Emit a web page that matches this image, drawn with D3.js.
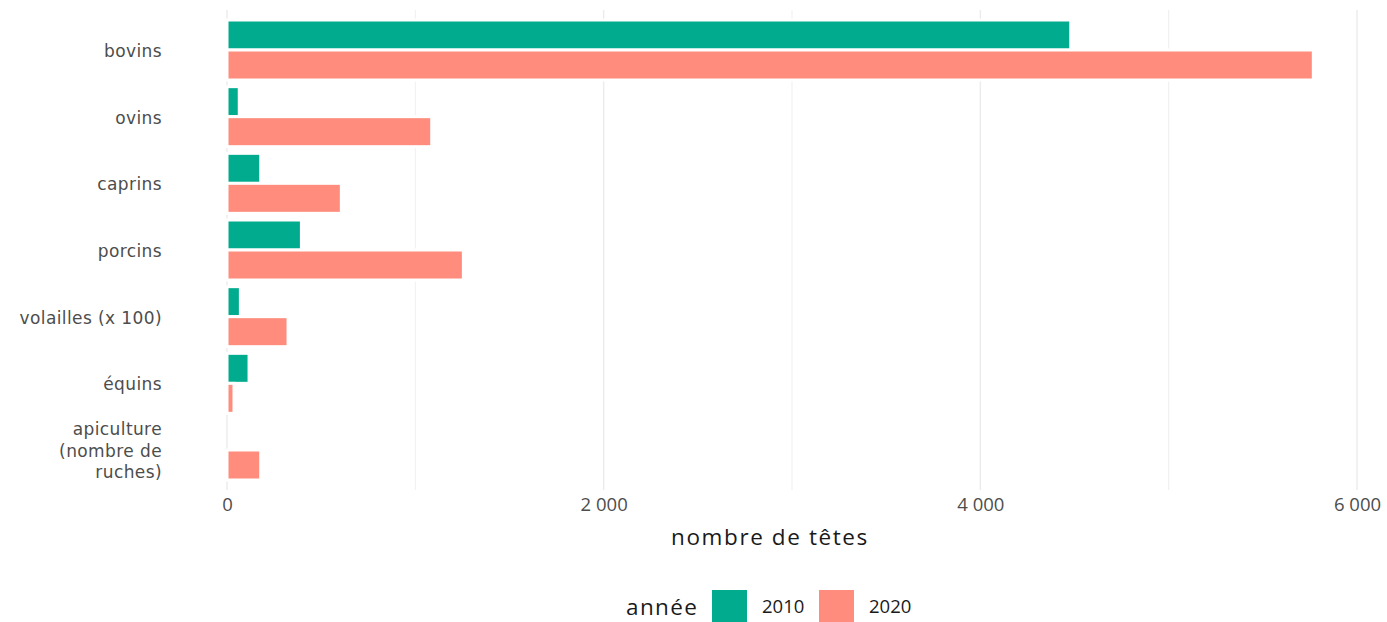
<!DOCTYPE html>
<html lang="fr">
<head>
<meta charset="utf-8">
<script src="https://cdn.jsdelivr.net/npm/d3@7"></script>
<style>
  html, body { margin: 0; padding: 0; background: #fff; }
  svg { display: block; font-family: "Open Sans", "Noto Sans", sans-serif; }
</style>
</head>
<body>
<svg id="chart" width="1387" height="622"></svg>
<script>
// Cheptel par espèce, 2010 et 2020
const categories = ["bovins", "ovins", "caprins", "porcins", "volailles (x 100)", "équins", "apiculture (nombre de ruches)"];
const categoryLines = [["bovins"], ["ovins"], ["caprins"], ["porcins"], ["volailles (x 100)"], ["équins"], ["apiculture", "(nombre de", "ruches)"]];
const years = ["2010", "2020"];
const values2010 = [4480, 65, 179, 395, 71, 117, null];
const values2020 = [5768, 1087, 607, 1255, 324, 37, 179];
const xTicks = [0, 2000, 4000, 6000];
const xGrid = [0, 1000, 2000, 3000, 4000, 5000, 6000];
const colors = ["#00ab8e", "#ff8c7d"];

const svg = d3.select("#chart");

const x = d3.scaleLinear().domain([0, 6000]).range([227, 1357]);
const y = d3.scaleBand().domain(categories).range([10, 490]).paddingInner(0).paddingOuter(0.1);
const yInner = d3.scaleBand().domain(years)
  .range([y.bandwidth() * 0.05, y.bandwidth() * 0.95]);
const color = d3.scaleOrdinal().domain(years).range(colors);

const fr = d3.formatLocale({ decimal: ",", thousands: "\u00a0", grouping: [3], currency: ["", " €"] });
const fmt = fr.format(",d");

// grid lines
svg.append("g").selectAll("line").data(xGrid).join("line")
  .attr("x1", d => x(d)).attr("x2", d => x(d))
  .attr("y1", 10).attr("y2", 490)
  .attr("stroke", "#ebebeb")
  .attr("stroke-width", d => xTicks.includes(d) ? 1.4 : 0.8);

// bars
const rows = categories.map((c, i) => ({ cat: c, vals: [values2010[i], values2020[i]] }));
const groups = svg.append("g").selectAll("g").data(rows).join("g")
  .attr("transform", d => `translate(0,${y(d.cat)})`);
groups.selectAll("rect")
  .data(d => years.map((yr, j) => ({ year: yr, value: d.vals[j] })).filter(v => v.value != null))
  .join("rect")
  .attr("x", x(0))
  .attr("y", d => yInner(d.year))
  .attr("width", d => x(d.value) - x(0))
  .attr("height", yInner.bandwidth())
  .attr("fill", d => color(d.year))
  .attr("stroke", "#fff")
  .attr("stroke-width", 3);

// x axis tick labels
const xAxis = d3.axisBottom(x).tickValues(xTicks).tickFormat(fmt).tickSize(0).tickPadding(0);
const gx = svg.append("g").attr("transform", "translate(0,498)").call(xAxis);
gx.select(".domain").remove();
gx.selectAll("text").attr("fill", "#4d4d4d").style("font-size", "18.5px")
  .style("font-family", "'Open Sans', sans-serif");

// y category labels
const gy = svg.append("g");
categories.forEach((c, i) => {
  const lines = categoryLines[i];
  const lh = 21.5;
  const cy = y(c) + y.bandwidth() / 2;
  const t = gy.append("text")
    .attr("x", 162)
    .attr("text-anchor", "end")
    .attr("fill", "#4d4d4d")
    .style("font-family", "'DejaVu Sans', sans-serif")
    .style("font-size", "17px")
    .style("letter-spacing", "0.4px");
  lines.forEach((ln, k) => {
    t.append("tspan")
      .attr("x", 162)
      .attr("y", cy + 1 + (k - (lines.length - 1) / 2) * lh)
      .attr("dy", "0.35em")
      .text(ln);
  });
});

// axis title
svg.append("text")
  .attr("x", 770)
  .attr("y", 537)
  .attr("dy", "0.35em")
  .attr("text-anchor", "middle")
  .attr("fill", "#1a1a1a")
  .style("font-size", "22.5px")
  .style("letter-spacing", "1.6px")
  .text("nombre de têtes");

// legend
const legend = svg.append("g");
legend.append("text")
  .attr("x", 626).attr("y", 607).attr("dy", "0.35em")
  .attr("fill", "#1a1a1a")
  .style("font-size", "22.5px")
  .style("letter-spacing", "1.4px")
  .text("année");
const keyX = [712, 819];
years.forEach((yr, j) => {
  legend.append("rect")
    .attr("x", keyX[j]).attr("y", 590)
    .attr("width", 35).attr("height", 35)
    .attr("fill", color(yr));
  legend.append("text")
    .attr("x", keyX[j] + 50).attr("y", 607).attr("dy", "0.35em")
    .attr("fill", "#1a1a1a")
    .style("font-size", "18.5px")
    .text(yr);
});
</script>
</body>
</html>
